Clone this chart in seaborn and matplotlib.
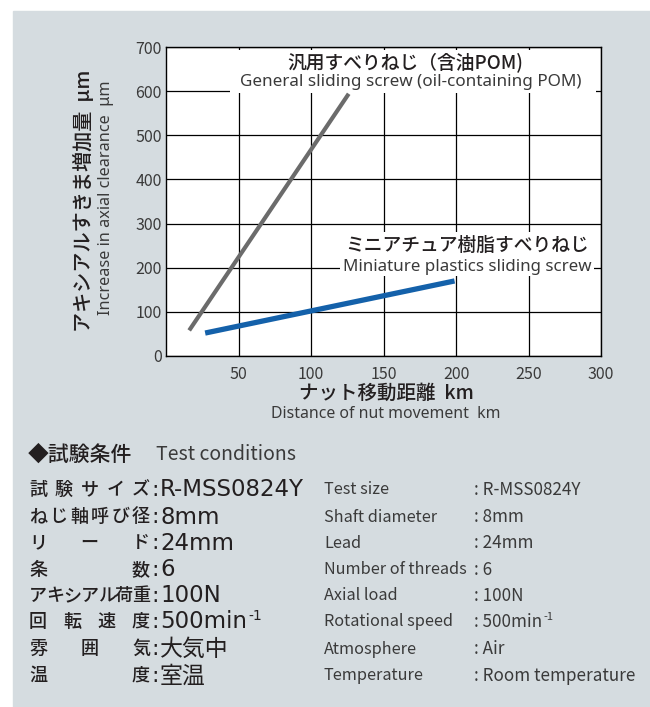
import pandas as pd
import matplotlib.pyplot as plt
import seaborn as sns
from matplotlib.patches import Rectangle

# 軸データ
dist_general = [16, 126]
clear_general = [58, 594]
dist_mini = [27, 199]
clear_mini = [52, 170]

x_ticks = [50, 100, 150, 200, 250, 300]
y_ticks = [0, 100, 200, 300, 400, 500, 600, 700]

# 試験条件
cond_jp = ["試験サイズ", "ねじ軸呼び径", "リード", "条数", "アキシアル荷重", "回転速度", "雰囲気", "温度"]
cond_jp_val = ["R-MSS0824Y", "8mm", "24mm", "6", "100N", "500min", "大気中", "室温"]
cond_en = ["Test size", "Shaft diameter", "Lead", "Number of threads", "Axial load",
           "Rotational speed", "Atmosphere", "Temperature"]
cond_en_val = ["R-MSS0824Y", "8mm", "24mm", "6", "100N", "500min", "Air", "Room temperature"]
row_y = [490, 517, 543, 570, 596, 622, 649, 676]

sns.set_style('white')
plt.rcParams['font.family'] = ['Noto Sans CJK JP', 'DejaVu Sans']
plt.rcParams['axes.unicode_minus'] = False

W, H = 650, 707
TXT = '#231f20'
SUB = '#3a3a3a'
LATIN = ['Noto Sans', 'Noto Sans CJK JP', 'DejaVu Sans']
WIDE = ['DejaVu Sans', 'Noto Sans CJK JP']


def fx(px):
    return px / W


def fy(py):
    return 1 - py / H


fig = plt.figure(figsize=(6.5, 7.07), dpi=100, facecolor='white')
fig.patches.append(Rectangle((fx(13), 0), 1, fy(11), transform=fig.transFigure,
                             color='#d5dce0', zorder=-1))

ax = fig.add_axes([fx(166), fy(356), (601 - 166) / W, (356 - 47) / H])
ax.set_facecolor('white')

df = pd.concat([
    pd.DataFrame({'dist': dist_general, 'clear': clear_general, 'kind': 'general'}),
    pd.DataFrame({'dist': dist_mini, 'clear': clear_mini, 'kind': 'mini'}),
])
sns.lineplot(data=df[df.kind == 'general'], x='dist', y='clear', color='#6b6b6b',
             linewidth=3.0, ax=ax, zorder=4, solid_capstyle='butt')
sns.lineplot(data=df[df.kind == 'mini'], x='dist', y='clear', color='#1461aa',
             linewidth=3.8, ax=ax, zorder=4, solid_capstyle='butt')

ax.set_xlim(0, 300)
ax.set_ylim(0, 700)
ax.set_xticks(x_ticks)
ax.set_yticks(y_ticks)
ax.tick_params(length=0, labelsize=11.5, labelcolor=SUB)
ax.tick_params(axis='x', pad=7)
ax.tick_params(axis='y', pad=3)
ax.grid(True, color='black', linewidth=0.9)
ax.set_axisbelow(True)
for s in ax.spines.values():
    s.set_color('black')
    s.set_linewidth(1.0)
ax.set_xlabel('')
ax.set_ylabel('')

# ラベル背景（白）
ax.add_patch(Rectangle((0.147, 0.851), 0.842, 0.139, transform=ax.transAxes,
                       facecolor='white', edgecolor='none', zorder=3))
ax.add_patch(Rectangle((0.400, 0.258), 0.584, 0.143, transform=ax.transAxes,
                       facecolor='white', edgecolor='none', zorder=3))

fig.text(fx(405), fy(62), '汎用すべりねじ（含油POM)', fontsize=13.5, fontweight='medium',
         color=TXT, ha='center', va='center', zorder=5)
fig.text(fx(411), fy(82), 'General sliding screw (oil-containing POM)', fontsize=12.3,
         family=LATIN, color=SUB, ha='center', va='center', zorder=5)
fig.text(fx(467), fy(245), 'ミニアチュア樹脂すべりねじ', fontsize=13.5, fontweight='medium',
         color=TXT, ha='center', va='center', zorder=5)
fig.text(fx(467), fy(267), 'Miniature plastics sliding screw', fontsize=12.2,
         family=LATIN, color=SUB, ha='center', va='center', zorder=5)

# 軸ラベル
fig.text(fx(83), fy(201), 'アキシアルすきま増加量  μm', fontsize=14.5, fontweight='medium',
         color=TXT, rotation=90, ha='center', va='center')
fig.text(fx(106), fy(198), 'Increase in axial clearance  μm', fontsize=11.7,
         family=LATIN, color=SUB, rotation=90, ha='center', va='center')
fig.text(fx(386), fy(393), 'ナット移動距離  km', fontsize=14, fontweight='medium',
         color=TXT, ha='center', va='center')
fig.text(fx(386), fy(414), 'Distance of nut movement  km', fontsize=11.4,
         family=LATIN, color=SUB, ha='center', va='center')

# 試験条件
fig.text(fx(28), fy(455), '◆試験条件', fontsize=15, fontweight='medium', color=TXT,
         ha='left', va='center')
fig.text(fx(156), fy(455), 'Test conditions', fontsize=14, color=SUB, ha='left', va='center')

fs_jp = 13
cw = fs_jp * 100 / 72
left, right = 29, 150
sup_targets = []
for lab, val, en, enval, y in zip(cond_jp, cond_jp_val, cond_en, cond_en_val, row_y):
    n = len(lab)
    step = (right - left - cw) / (n - 1)
    for i, ch in enumerate(lab):
        fig.text(fx(left + cw / 2 + i * step), fy(y), ch, fontsize=fs_jp, fontweight='medium',
                 color=TXT, ha='center', va='center')
    fig.text(fx(151), fy(y), ':', fontsize=16, family=WIDE, color=TXT, ha='left', va='center')
    t = fig.text(fx(160), fy(y), val, fontsize=16.5, family=WIDE, color=TXT,
                 ha='left', va='center')
    fig.text(fx(324), fy(y), en, fontsize=11.7, color=SUB, ha='left', va='center')
    t2 = fig.text(fx(474), fy(y), ': ' + enval, fontsize=12.3, color=SUB, ha='left', va='center')
    if val == '500min':
        sup_targets.append((t, 10, TXT, WIDE))
        sup_targets.append((t2, 8, SUB, ['Noto Sans CJK JP']))

# 上付き "-1" は描画後の文字幅から位置を決める
fig.canvas.draw()
renderer = fig.canvas.get_renderer()
for t, fs, col, fam in sup_targets:
    bb = t.get_window_extent(renderer)
    xr = bb.x1 / fig.bbox.width
    ytop = (bb.y0 + bb.height * 0.78) / fig.bbox.height
    fig.text(xr + 1 / W, ytop, '-1', fontsize=fs, family=fam, color=col, ha='left', va='center')

fig.savefig('out.png', dpi=100, facecolor=fig.get_facecolor())
